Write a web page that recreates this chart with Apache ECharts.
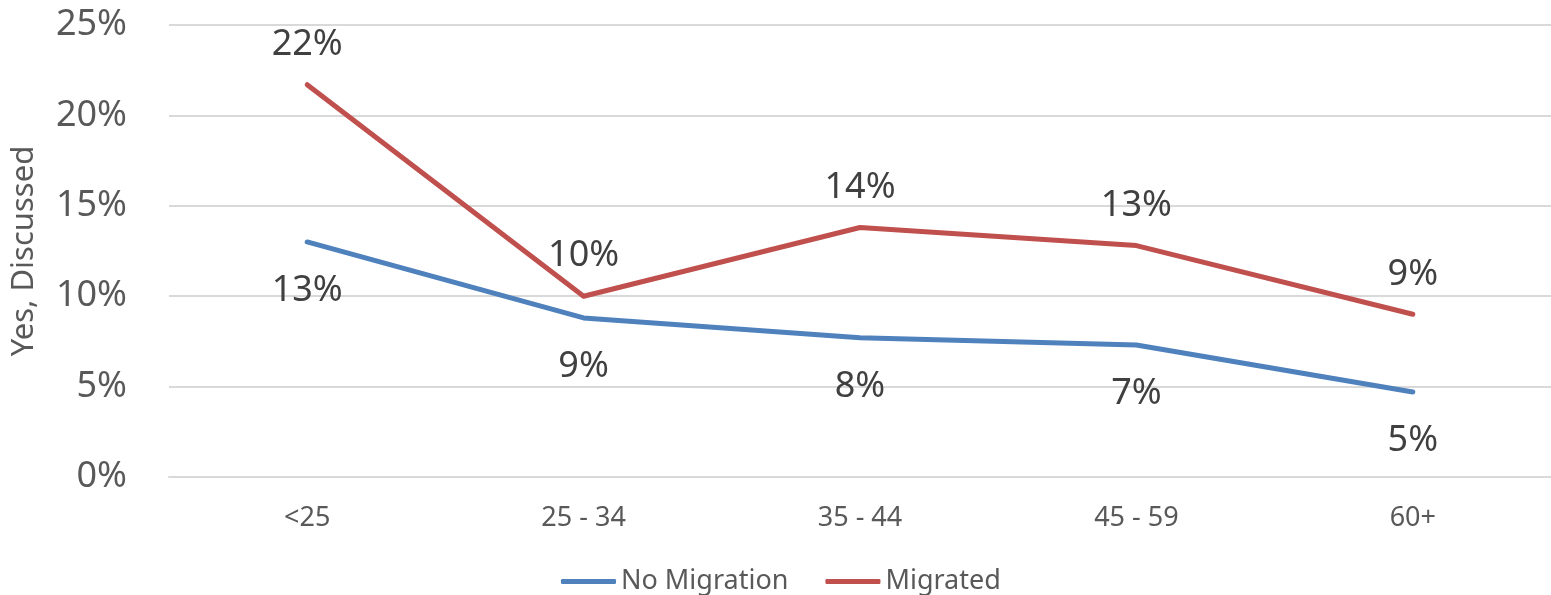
<!DOCTYPE html>
<html>
<head>
<meta charset="utf-8">
<script src="https://cdn.jsdelivr.net/npm/echarts@6/dist/echarts.min.js"></script>
<style>
html,body{margin:0;padding:0;background:#fff;}
#c{width:1551px;height:595px;}
</style>
</head>
<body>
<div id="c"></div>
<script>
const categories = ['<25', '25 - 34', '35 - 44', '45 - 59', '60+'];
const noMigration = [13.0, 8.8, 7.7, 7.3, 4.7];
const migrated = [21.7, 10.0, 13.8, 12.8, 9.0];
const yTicks = [0, 5, 10, 15, 20, 25];

const FONT = 'Noto Sans';
const chart = echarts.init(document.getElementById('c'), null, {renderer: 'canvas'});
chart.setOption({
  animation: false,
  backgroundColor: '#fff',
  textStyle: {fontFamily: FONT},
  grid: {left: 169, width: 1389, top: 25, height: 452, containLabel: false},
  legend: {
    top: 563,
    left: 556,
    itemWidth: 55,
    itemHeight: 5,
    itemGap: 37,
    icon: 'roundRect',
    textStyle: {fontFamily: FONT, fontSize: 27, color: '#595959'},
    data: ['No Migration', 'Migrated']
  },
  xAxis: {
    type: 'category',
    data: categories,
    boundaryGap: true,
    axisLine: {show: true, lineStyle: {color: '#d9d9d9', width: 2}},
    axisTick: {show: false},
    axisLabel: {fontFamily: FONT, fontSize: 27, color: '#595959', margin: 28}
  },
  yAxis: {
    type: 'value',
    min: yTicks[0],
    max: yTicks[yTicks.length - 1],
    interval: 5,
    name: 'Yes, Discussed',
    nameLocation: 'middle',
    nameGap: 129,
    nameTextStyle: {fontFamily: FONT, fontSize: 31, color: '#595959'},
    axisLine: {show: false},
    axisTick: {show: false},
    axisLabel: {fontFamily: FONT, fontSize: 36, color: '#595959', margin: 42, formatter: v => v + '%'},
    splitLine: {lineStyle: {color: '#d9d9d9', width: 2}}
  },
  series: [
    {
      name: 'No Migration',
      type: 'line',
      data: noMigration,
      symbol: 'circle',
      symbolSize: 0,
      showSymbol: true,
      color: '#4F81BD',
      lineStyle: {width: 5, color: '#4F81BD', cap: 'round', join: 'round'},
      label: {show: true, position: 'bottom', distance: 31, fontFamily: FONT, fontSize: 36, color: '#404040',
        formatter: p => Math.round(p.value) + '%'}
    },
    {
      name: 'Migrated',
      type: 'line',
      data: migrated,
      symbol: 'circle',
      symbolSize: 0,
      showSymbol: true,
      color: '#C0504D',
      lineStyle: {width: 5, color: '#C0504D', cap: 'round', join: 'round'},
      label: {show: true, position: 'top', distance: 22, fontFamily: FONT, fontSize: 36, color: '#404040',
        formatter: p => Math.round(p.value) + '%'}
    }
  ]
});
</script>
</body>
</html>
